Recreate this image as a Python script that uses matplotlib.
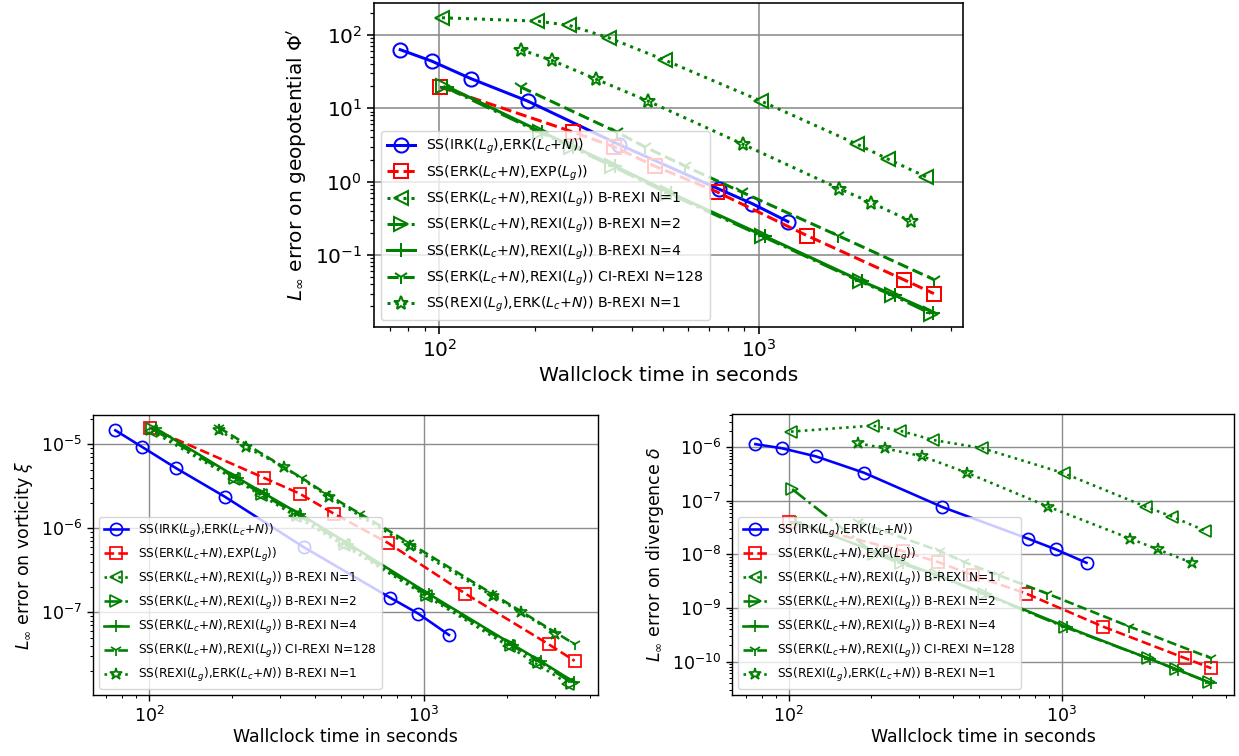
import matplotlib
matplotlib.use("Agg")
import matplotlib.pyplot as plt

# ---------------- data (wallclock times in seconds) ----------------
t_irk = [75.5, 94.6, 125.7, 189, 365, 753, 953, 1233]
t_exp = [100.6, 262, 353, 472, 741, 1416, 2838, 3532]
t_b1 = [102, 203, 255, 339, 510, 1016, 2033, 2535, 3342]
t_b2 = [103, 206, 258, 347, 518, 1027, 2070, 2618, 3451]
t_b4 = [106, 210, 263, 354, 530, 1045, 2100, 2660, 3520]
t_ci = [180, 359, 440, 587, 885, 1770, 3532]
t_rf = [180, 225, 309, 450, 893, 1786, 2250, 2993]

# geopotential errors
phi_irk = [62.5, 43.8, 25.2, 12.5, 3.2, 0.787, 0.502, 0.286]
phi_exp = [19.4, 4.74, 2.97, 1.63, 0.722, 0.184, 0.0464, 0.0299]
phi_b1 = [170, 153, 134, 91, 44.8, 12.5, 3.22, 2.03, 1.16]
phi_b2 = [19.8, 4.7, 3.0, 1.63, 0.70, 0.18, 0.044, 0.0284, 0.016]
phi_b4 = [19.6, 4.7, 3.0, 1.63, 0.70, 0.18, 0.044, 0.0284, 0.0165]
phi_ci = [19.4, 4.74, 2.97, 1.63, 0.72, 0.184, 0.0464]
phi_rf = [62.5, 44.8, 24.9, 12.5, 3.22, 0.80, 0.518, 0.288]

# vorticity errors
xi_irk = [1.47e-5, 9.3e-6, 5.2e-6, 2.38e-6, 6.0e-7, 1.50e-7, 9.7e-8, 5.4e-8]
xi_exp = [1.58e-5, 4.0e-6, 2.6e-6, 1.49e-6, 6.7e-7, 1.67e-7, 4.19e-8, 2.65e-8]
xi_b1 = [1.45e-5, 3.9e-6, 2.5e-6, 1.42e-6, 6.3e-7, 1.58e-7, 3.95e-8, 2.5e-8, 1.42e-8]
xi_b2 = [1.52e-5, 4.0e-6, 2.55e-6, 1.46e-6, 6.5e-7, 1.62e-7, 4.1e-8, 2.6e-8, 1.45e-8]
xi_b4 = [1.55e-5, 4.0e-6, 2.6e-6, 1.48e-6, 6.6e-7, 1.65e-7, 4.15e-8, 2.62e-8, 1.48e-8]
xi_ci = [1.58e-5, 4.0e-6, 2.6e-6, 1.49e-6, 6.7e-7, 1.67e-7, 4.19e-8]
xi_rf = [1.48e-5, 9.3e-6, 5.4e-6, 2.38e-6, 6.1e-7, 1.55e-7, 1.01e-7, 5.6e-8]

# divergence errors
d_irk = [1.15e-6, 9.6e-7, 6.8e-7, 3.35e-7, 7.7e-8, 1.97e-8, 1.24e-8, 6.98e-9]
d_exp = [4.04e-8, 1.15e-8, 7.2e-9, 4.1e-9, 1.86e-9, 4.5e-10, 1.15e-10, 7.5e-11]
d_b1 = [1.97e-6, 2.55e-6, 2.05e-6, 1.37e-6, 9.7e-7, 3.3e-7, 7.8e-8, 5.1e-8, 2.8e-8]
d_b2 = [1.66e-7, 1.04e-8, 6.8e-9, 4.1e-9, 1.83e-9, 4.4e-10, 1.15e-10, 7.2e-11, 4.1e-11]
d_b4 = [4.1e-8, 1.1e-8, 7.0e-9, 4.0e-9, 1.8e-9, 4.4e-10, 1.12e-10, 7.0e-11, 4.0e-11]
d_ci = [4.04e-8, 1.15e-8, 7.2e-9, 4.1e-9, 1.86e-9, 4.5e-10, 1.15e-10]
d_rf = [1.19e-6, 9.6e-7, 6.8e-7, 3.35e-7, 7.8e-8, 1.97e-8, 1.24e-8, 7.0e-9]

labels = [
    r'SS(IRK($L_g$),ERK($L_c$+$N$))',
    r'SS(ERK($L_c$+$N$),EXP($L_g$))',
    r'SS(ERK($L_c$+$N$),REXI($L_g$)) B-REXI N=1',
    r'SS(ERK($L_c$+$N$),REXI($L_g$)) B-REXI N=2',
    r'SS(ERK($L_c$+$N$),REXI($L_g$)) B-REXI N=4',
    r'SS(ERK($L_c$+$N$),REXI($L_g$)) CI-REXI N=128',
    r'SS(REXI($L_g$),ERK($L_c$+$N$)) B-REXI N=1',
]
times = [t_irk, t_exp, t_b1, t_b2, t_b4, t_ci, t_rf]
styles = [('b', 'o', '-'), ('r', 's', '--'), ('g', '<', ':'), ('g', '>', '-.'),
          ('g', '+', '-'), ('g', '1', '--'), ('g', '*', ':')]

W, H = 1239, 756
fig = plt.figure(figsize=(W / 100, H / 100), dpi=100)


def panel(rect, errs, ylabel, xlim, ylim, s, xpad):
    ax = fig.add_axes(rect)
    for (c, m, ls), t, e, lab in zip(styles, times, errs, labels):
        ax.plot(t, e, color=c, marker=m, linestyle=ls, label=lab,
                linewidth=1.5 * s, markersize=7 * s,
                markerfacecolor='none', markeredgewidth=1.0 * s)
    ax.set_xscale('log')
    ax.set_yscale('log')
    ax.set_xlim(*xlim)
    ax.set_ylim(*ylim)
    ax.grid(True, which='major', color='#8c8c8c', linewidth=0.8 * s)
    ax.tick_params(which='major', labelsize=10 * s, length=3.5 * s, width=0.8 * s)
    ax.tick_params(which='minor', length=2 * s, width=0.6 * s)
    for sp in ax.spines.values():
        sp.set_linewidth(0.8 * s)
    ax.set_xlabel('Wallclock time in seconds', fontsize=10 * s, labelpad=xpad)
    ax.set_ylabel(ylabel, fontsize=10 * s)
    ax.legend(loc='lower left', fontsize=7 * s)
    return ax


def rect(l, r, t, b):
    return [l / W, 1 - b / H, (r - l) / W, (b - t) / H]


panel(rect(374, 963, 3, 327), [phi_irk, phi_exp, phi_b1, phi_b2, phi_b4, phi_ci, phi_rf],
      r"$L_\infty$ error on geopotential $\Phi'$", (62.5, 4355), (0.0105, 270), 1.45, 4.0)
panel(rect(93, 598, 415, 695), [xi_irk, xi_exp, xi_b1, xi_b2, xi_b4, xi_ci, xi_rf],
      r"$L_\infty$ error on vorticity $\xi$", (62.6, 4295), (1.04e-8, 2.24e-5), 1.25, 1.5)
panel(rect(732, 1234, 414, 695), [d_irk, d_exp, d_b1, d_b2, d_b4, d_ci, d_rf],
      r"$L_\infty$ error on divergence $\delta$", (62, 4278), (2.37e-11, 4.2e-6), 1.25, 1.5)

fig.savefig('out.png', dpi=100)
